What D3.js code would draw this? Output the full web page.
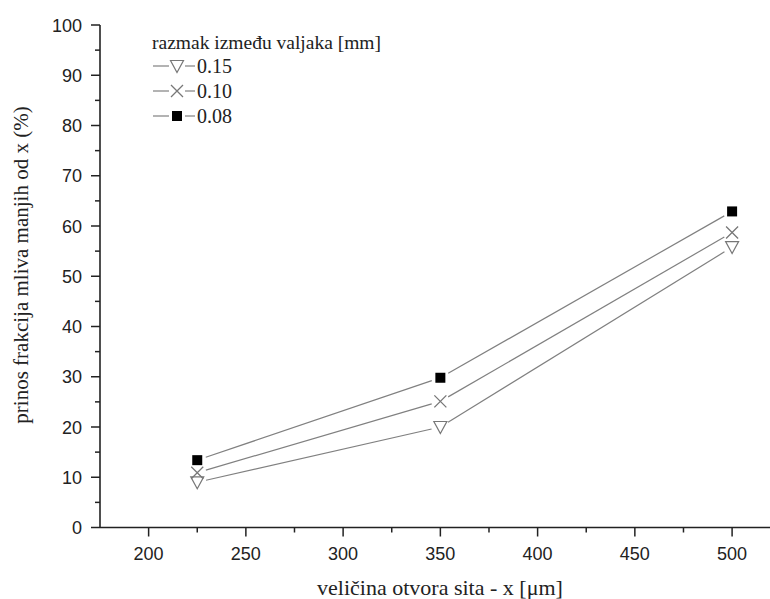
<!DOCTYPE html>
<html><head><meta charset="utf-8">
<script src="https://cdn.jsdelivr.net/npm/d3@7"></script>
</head><body style="margin:0">
<script>
const sieveSizes = [225, 350, 500];
const series015 = [9.0, 20.0, 55.8];
const series010 = [10.9, 25.1, 58.7];
const series008 = [13.4, 29.8, 62.9];
const seriesNames = ["0.15", "0.10", "0.08"];
const seriesSymbols = ["triangle", "cross", "square"];
const xTicks = [200, 250, 300, 350, 400, 450, 500];
const yTicks = [0, 10, 20, 30, 40, 50, 60, 70, 80, 90, 100];
const xTitle = "veličina otvora sita - x [μm]";
const yTitle = "prinos frakcija mliva manjih od x (%)";
const legendTitle = "razmak između valjaka [mm]";

const W = 770, H = 599;
const svg = d3.select("body").append("svg").attr("width", W).attr("height", H);
const x = d3.scaleLinear().domain([175, 520]).range([100, 771]);
const y = d3.scaleLinear().domain([0, 100]).range([527.5, 25]);

function sansText(sel) { return sel.style("font-family", "'Liberation Sans'"); }
function serifText(sel) { return sel.style("font-family", "'Times New Roman'"); }

const axisColor = "#222";
svg.append("line").attr("x1", 100).attr("x2", 770).attr("y1", y(0)).attr("y2", y(0)).attr("stroke", axisColor).attr("stroke-width", 1.6);
svg.append("line").attr("x1", 100).attr("x2", 100).attr("y1", y(0)).attr("y2", y(100)).attr("stroke", axisColor).attr("stroke-width", 1.6);

const xMinor = d3.range(225, 520, 50);
svg.selectAll(".xt").data(xTicks).enter().append("line")
  .attr("x1", d => x(d)).attr("x2", d => x(d)).attr("y1", y(0)).attr("y2", y(0) + 9)
  .attr("stroke", axisColor).attr("stroke-width", 1.5);
svg.selectAll(".xm").data(xMinor).enter().append("line")
  .attr("x1", d => x(d)).attr("x2", d => x(d)).attr("y1", y(0)).attr("y2", y(0) + 5)
  .attr("stroke", axisColor).attr("stroke-width", 1.5);
svg.selectAll(".xl").data(xTicks).enter().append("text")
  .attr("x", d => x(d)).attr("y", 560).attr("text-anchor", "middle")
  .call(sansText).attr("font-size", 18).attr("fill", "#222")
  .text(d => d);

const yMinor = d3.range(5, 100, 10);
svg.selectAll(".yt").data(yTicks).enter().append("line")
  .attr("x1", 100 - 9).attr("x2", 100).attr("y1", d => y(d)).attr("y2", d => y(d))
  .attr("stroke", axisColor).attr("stroke-width", 1.5);
svg.selectAll(".ym").data(yMinor).enter().append("line")
  .attr("x1", 100 - 5).attr("x2", 100).attr("y1", d => y(d)).attr("y2", d => y(d))
  .attr("stroke", axisColor).attr("stroke-width", 1.5);
svg.selectAll(".yl").data(yTicks).enter().append("text")
  .attr("x", 82).attr("y", d => y(d) + 6.5).attr("text-anchor", "end")
  .call(sansText).attr("font-size", 18).attr("fill", "#222")
  .text(d => d);

svg.append("text").attr("x", 440).attr("y", 595).attr("text-anchor", "middle")
  .call(serifText).attr("font-size", 22).attr("fill", "#222")
  .text(xTitle);
svg.append("text").attr("transform", "translate(28,265) rotate(-90)").attr("text-anchor", "middle")
  .call(serifText).attr("font-size", 21).attr("fill", "#222")
  .text(yTitle);

const lineColor = "#808080";
const allSeries = [series015, series010, series008];

function drawMarker(g, type, cx, cy) {
  if (type === "triangle") {
    g.append("path").attr("d", `M${cx-6.5},${cy-5.5}L${cx+6.5},${cy-5.5}L${cx},${cy+6.5}Z`)
      .attr("fill", "#fff").attr("stroke", "#777").attr("stroke-width", 1.2);
  } else if (type === "cross") {
    g.append("path").attr("d", `M${cx-6},${cy-6}L${cx+6},${cy+6}M${cx-6},${cy+6}L${cx+6},${cy-6}`)
      .attr("stroke", "#777").attr("stroke-width", 1.3).attr("fill", "none");
  } else {
    g.append("rect").attr("x", cx - 5).attr("y", cy - 5).attr("width", 10).attr("height", 10)
      .attr("fill", "#000");
  }
}

allSeries.forEach((vals, si) => {
  const g = svg.append("g");
  const pts = sieveSizes.map((s, i) => [x(s), y(vals[i])]);
  for (let i = 0; i < pts.length - 1; i++) {
    const [x1, y1] = pts[i], [x2, y2] = pts[i + 1];
    const dx = x2 - x1, dy = y2 - y1, len = Math.hypot(dx, dy);
    const gap = 9;
    g.append("line")
      .attr("x1", x1 + dx / len * gap).attr("y1", y1 + dy / len * gap)
      .attr("x2", x2 - dx / len * gap).attr("y2", y2 - dy / len * gap)
      .attr("stroke", lineColor).attr("stroke-width", 1.2);
  }
  pts.forEach(p => drawMarker(g, seriesSymbols[si], p[0], p[1]));
});

const lg = svg.append("g");
lg.append("text").attr("x", 152).attr("y", 49)
  .call(serifText).attr("font-size", 19.5).attr("fill", "#222")
  .text(legendTitle);
seriesNames.forEach((n, i) => {
  const cy = 66 + i * 25;
  lg.append("line").attr("x1", 153).attr("x2", 169).attr("y1", cy).attr("y2", cy).attr("stroke", lineColor).attr("stroke-width", 1.2);
  lg.append("line").attr("x1", 185).attr("x2", 195).attr("y1", cy).attr("y2", cy).attr("stroke", lineColor).attr("stroke-width", 1.2);
  drawMarker(lg, seriesSymbols[i], 177, cy);
  lg.append("text").attr("x", 197).attr("y", cy + 7)
    .call(serifText).attr("font-size", 20).attr("fill", "#222")
    .text(n);
});
</script>
</body></html>
